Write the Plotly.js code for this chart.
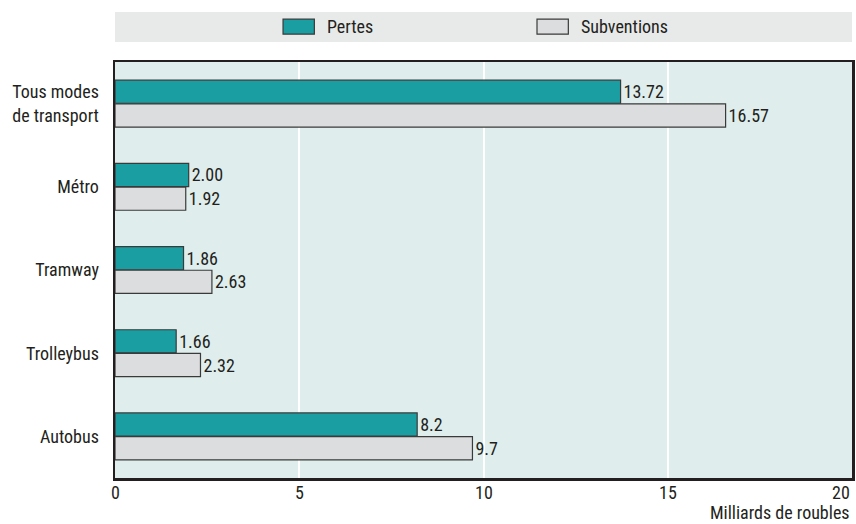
<!DOCTYPE html>
<html>
<head>
<meta charset="utf-8">
<script src="https://cdn.plot.ly/plotly-3.0.1.min.js"></script>
<style>
  html, body { margin: 0; padding: 0; background: #ffffff; }
  #chart { width: 856px; height: 524px; }
</style>
</head>
<body>
<div id="chart"></div>
<script>
// Pertes et subventions par mode de transport (milliards de roubles)
const categories = ["Tous modes<br>de transport", "Métro", "Tramway", "Trolleybus", "Autobus"];
const seriesNames = ["Pertes", "Subventions"];
const pertesLabels = ["13.72", "2.00", "1.86", "1.66", "8.2"];
const subventionsLabels = ["16.57", "1.92", "2.63", "2.32", "9.7"];
const pertes = pertesLabels.map(Number);
const subventions = subventionsLabels.map(Number);
const xTicks = [0, 5, 10, 15, 20];
const xTitle = "Milliards de roubles";

const FONT = "'Liberation Sans Narrow', 'Arial Narrow', 'Roboto Condensed', sans-serif";
const SIZE = 18;
const INK = "#231f20";
const colors = ["#1a9ea1", "#dcdddf"];

function barTrace(name, values, labels, color) {
  return {
    type: "bar",
    orientation: "h",
    name: name,
    x: values,
    y: categories,
    text: labels,
    texttemplate: "%{text}",
    textposition: "outside",
    cliponaxis: false,
    textfont: { family: FONT, size: SIZE, color: INK },
    marker: { color: color, line: { color: "#3a3a3a", width: 1.2 } },
    hoverinfo: "skip"
  };
}

const data = [
  barTrace(seriesNames[0], pertes, pertesLabels, colors[0]),
  barTrace(seriesNames[1], subventions, subventionsLabels, colors[1])
];

// Legend band drawn above the plot area
const legendShapes = [
  { type: "rect", xref: "paper", yref: "paper", x0: 0, x1: 1, y0: 1.048, y1: 1.12,
    fillcolor: "#e8e9e9", line: { width: 0 }, layer: "below" }
];
const legendAnnotations = [];
const legendX = [0.228, 0.5726];
seriesNames.forEach((n, i) => {
  legendShapes.push({
    type: "rect", xref: "paper", yref: "paper",
    x0: legendX[i], x1: legendX[i] + 0.0425, y0: 1.067, y1: 1.103,
    fillcolor: colors[i], line: { color: "#3a3a3a", width: 1.2 }
  });
  legendAnnotations.push({
    xref: "paper", yref: "paper", x: legendX[i] + 0.057, y: 1.085,
    xanchor: "left", yanchor: "middle", showarrow: false,
    text: n, font: { family: FONT, size: SIZE, color: INK }
  });
});

// x tick labels placed on the axis scale; the last one sits flush with the frame
const tickAnnotations = xTicks.map((v, i) => ({
  xref: "x", yref: "paper", x: v, y: -0.034,
  xanchor: i === xTicks.length - 1 ? "right" : "center", yanchor: "middle",
  showarrow: false, text: String(v), font: { family: FONT, size: SIZE, color: INK }
}));

const layout = {
  width: 856,
  height: 524,
  margin: { l: 115, r: 4, t: 62, b: 46 },
  paper_bgcolor: "#ffffff",
  plot_bgcolor: "#dfeeed",
  barmode: "group",
  bargap: 0.43,
  bargroupgap: 0.02,
  showlegend: false,
  font: { family: FONT, size: SIZE, color: INK },
  xaxis: {
    range: [0, 20],
    tickvals: xTicks,
    showticklabels: false,
    showgrid: true,
    gridcolor: "#ffffff",
    gridwidth: 2,
    zeroline: false,
    showline: true,
    mirror: true,
    linecolor: INK,
    linewidth: 2.5,
    ticks: "",
    fixedrange: true
  },
  yaxis: {
    autorange: "reversed",
    showgrid: false,
    zeroline: false,
    showline: true,
    mirror: true,
    linecolor: INK,
    linewidth: 2.5,
    ticks: "",
    ticklabelstandoff: 10,
    tickfont: { family: FONT, size: SIZE, color: INK },
    fixedrange: true
  },
  shapes: legendShapes,
  annotations: legendAnnotations.concat(tickAnnotations, [
    { xref: "paper", yref: "paper", x: 1, y: -0.084, xanchor: "right", yanchor: "middle",
      showarrow: false, text: xTitle, font: { family: FONT, size: SIZE, color: INK } }
  ])
};

Plotly.newPlot("chart", data, layout, { displayModeBar: false, staticPlot: true });
</script>
</body>
</html>
